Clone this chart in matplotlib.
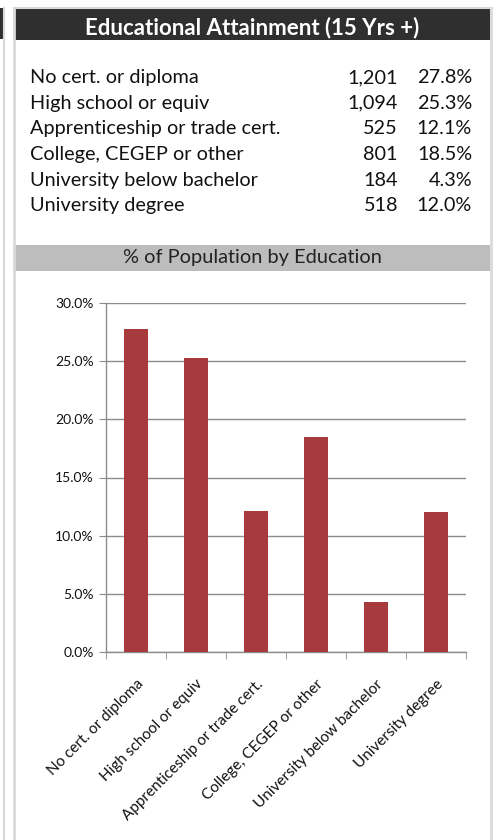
import matplotlib
matplotlib.use('Agg')
import matplotlib.pyplot as plt
from matplotlib.patches import Rectangle
from matplotlib.ticker import FuncFormatter, FixedLocator

plt.rcParams['font.family'] = ['Lato', 'DejaVu Sans']

# data
categories = ['No cert. or diploma', 'High school or equiv',
              'Apprenticeship or trade cert.', 'College, CEGEP or other',
              'University below bachelor', 'University degree']
counts = ['1,201', '1,094', '525', '801', '184', '518']
pct = [27.8, 25.3, 12.1, 18.5, 4.3, 12.0]

W, H = 495, 840
fig = plt.figure(figsize=(W / 100, H / 100), dpi=100)

# background canvas in pixel coordinates
bg = fig.add_axes([0, 0, 1, 1], zorder=0)
bg.set_xlim(0, W)
bg.set_ylim(H, 0)
bg.axis('off')

# panel borders
border = '#d9d9d9'
bg.plot([4, 4], [8, H], color=border, lw=1.5)
bg.plot([14, 14], [8, H], color=border, lw=2)
bg.plot([491, 491], [8, H], color=border, lw=2)
bg.plot([14, 491], [7.5, 7.5], color=border, lw=1.5)

# dark header + left sliver
bg.add_patch(Rectangle((0, 8), 3, 31, color='#2f2f2f', lw=0))
bg.add_patch(Rectangle((15, 8), 475, 32, color='#2f2f2f', lw=0))
bg.text(252, 34.5, 'Educational Attainment (15 Yrs +)', color='white',
        fontsize=16, fontweight='bold', ha='center', va='baseline')

# table rows
row_y = [83, 108.7, 134.4, 160, 185.7, 211.4]
for y, cat, n, p in zip(row_y, categories, counts, pct):
    bg.text(30, y, cat, fontsize=14.3, ha='left', va='baseline', color='#111111')
    bg.text(398, y, n, fontsize=14.3, ha='right', va='baseline', color='#111111')
    bg.text(472, y, f'{p:.1f}%', fontsize=14.3, ha='right', va='baseline', color='#111111')

# gray chart title band
bg.add_patch(Rectangle((15, 245), 475, 25.5, color='#bdbdbd', lw=0))
bg.text(252, 263.5, '% of Population by Education', fontsize=14.4,
        ha='center', va='baseline', color='#222222')

# bar chart
ax = fig.add_axes([106 / W, 1 - 652 / H, 360 / W, 349 / H], zorder=1)
ax.patch.set_alpha(0)
x = list(range(len(categories)))
ax.bar(x, [v / 100 for v in pct], width=0.4, color='#a73a3d', zorder=3)
ax.set_xlim(-0.5, len(categories) - 0.5)
ax.set_ylim(0, 0.30)
ax.set_yticks([i * 0.05 for i in range(7)])
ax.yaxis.set_major_formatter(FuncFormatter(lambda v, _: f'{v * 100:.1f}%'))
ax.grid(axis='y', color='#8c8c8c', lw=1, zorder=0)
ax.set_axisbelow(True)
for s in ['top', 'right']:
    ax.spines[s].set_visible(False)
for s in ['left', 'bottom']:
    ax.spines[s].set_color('#8c8c8c')
    ax.spines[s].set_linewidth(1)

ax.set_xticks(x)
ax.set_xticklabels(categories, rotation=45, ha='right', rotation_mode='anchor',
                   fontsize=11, color='#111111')
ax.tick_params(axis='x', which='major', length=0, pad=18)
ax.xaxis.set_minor_locator(FixedLocator([i - 0.5 for i in range(len(categories) + 1)]))
ax.tick_params(axis='x', which='minor', length=5, color='#8c8c8c', direction='out')
ax.tick_params(axis='y', length=5, color='#8c8c8c', labelsize=10, labelcolor='#111111', pad=4)

fig.savefig('out.png', dpi=100)
